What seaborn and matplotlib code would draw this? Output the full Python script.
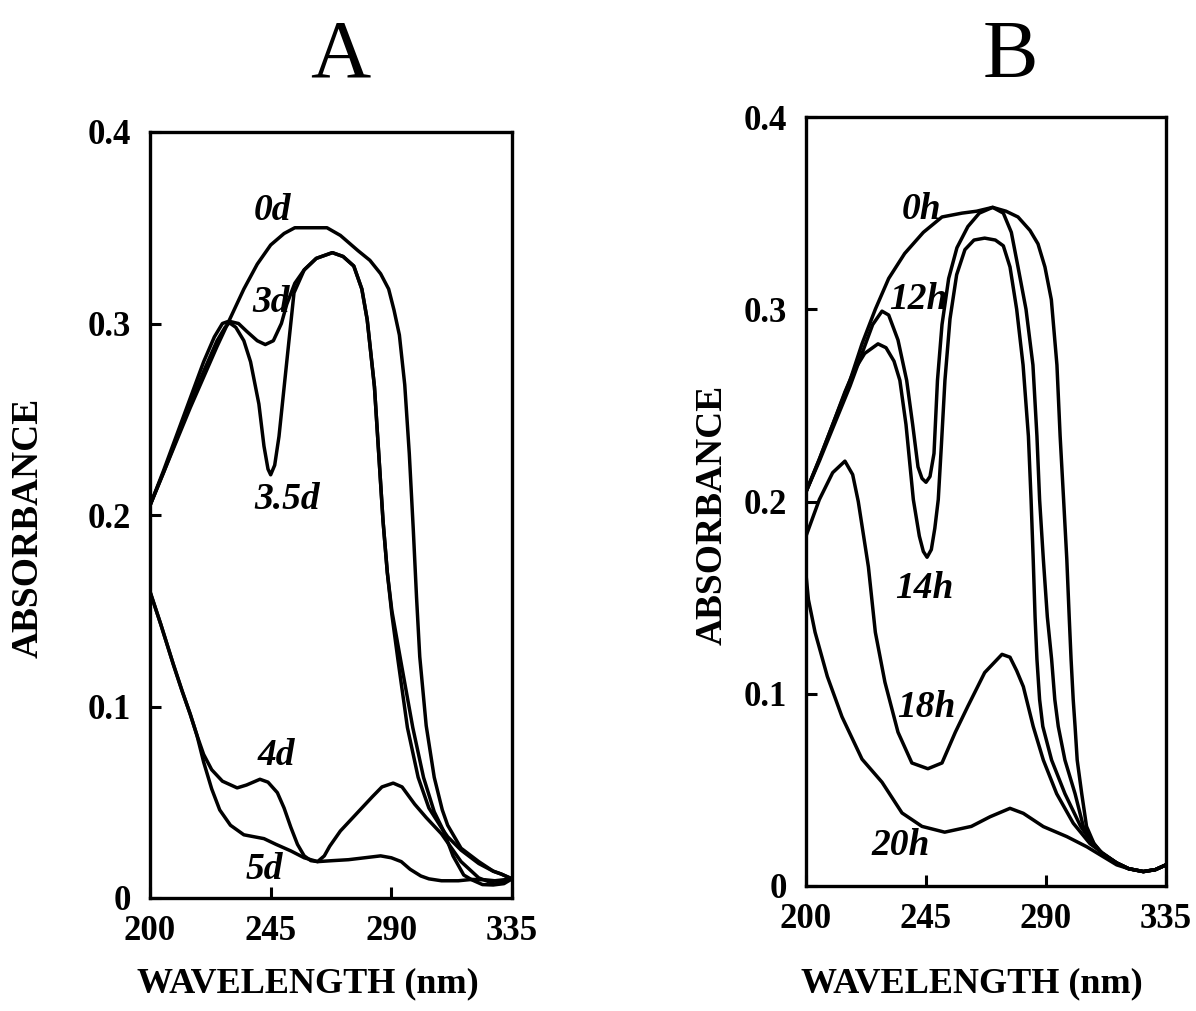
import numpy as np
import pandas as pd
import matplotlib
matplotlib.use("Agg")
import matplotlib.pyplot as plt
import seaborn as sns

# ---------------- data ----------------
x_ticks = [200, 245, 290, 335]
x_tick_labels = ["200", "245", "290", "335"]
y_ticks = [0, 0.1, 0.2, 0.3, 0.4]
y_tick_labels = ["0", "0.1", "0.2", "0.3", "0.4"]

# Panel A (days)
wl_0d = [200, 205, 210, 215, 220, 225, 230, 235, 240, 245, 250, 254, 260, 266, 271, 277.6, 282, 286, 289, 291,
         293, 295, 296.7, 298.2, 299.4, 300.6, 303, 306, 309, 311, 316, 322.6, 328, 331, 335]
abs_0d = [0.205, 0.222, 0.239, 0.256, 0.272, 0.288, 0.303, 0.318, 0.331, 0.341, 0.347, 0.350, 0.350, 0.350, 0.346,
          0.338, 0.333, 0.326, 0.318, 0.307, 0.294, 0.268, 0.232, 0.192, 0.157, 0.126, 0.090, 0.063, 0.046, 0.038,
          0.026, 0.019, 0.014, 0.0125, 0.010]

wl_3d = [200, 205, 210, 215, 220, 225, 228, 230, 233, 236, 240, 243, 246, 249, 251, 254, 257.5, 262, 268, 272,
         276, 279, 281, 283.7, 285.3, 286.9, 288.5, 290.2, 292.5, 296, 300, 304, 309, 311, 316, 322.6, 328, 331, 335]
abs_3d = [0.205, 0.222, 0.240, 0.258, 0.275, 0.291, 0.298, 0.301, 0.300, 0.296, 0.291, 0.289, 0.291, 0.300, 0.310,
          0.321, 0.328, 0.334, 0.337, 0.335, 0.330, 0.318, 0.302, 0.267, 0.232, 0.197, 0.170, 0.148, 0.124, 0.089,
          0.063, 0.047, 0.036, 0.032, 0.025, 0.018, 0.014, 0.0125, 0.010]

wl_35d = [200, 205, 210, 215, 220, 224, 227, 229, 232, 235, 237.5, 240.6, 242.5, 244, 245, 246.5, 248.1, 251.3,
          253.7, 257.5, 262, 268, 272, 276, 279, 281, 283.7, 285.3, 286.9, 288.5, 290.2, 293.5, 298, 302, 306, 309.5,
          313, 317, 320, 324, 328, 332, 335]
abs_35d = [0.205, 0.223, 0.242, 0.261, 0.280, 0.293, 0.300, 0.301, 0.298, 0.291, 0.280, 0.258, 0.236, 0.224, 0.221,
           0.226, 0.241, 0.284, 0.316, 0.328, 0.334, 0.337, 0.335, 0.330, 0.318, 0.302, 0.267, 0.232, 0.197, 0.170,
           0.150, 0.124, 0.089, 0.063, 0.045, 0.035, 0.022, 0.012, 0.0095, 0.007, 0.0068, 0.0075, 0.010]

wl_4d = [200, 204, 208.7, 212, 215, 217.5, 220, 223, 227, 232.5, 236, 241, 244, 247.5, 250, 252.5, 255, 257.5,
         260, 262.5, 265, 267, 271, 275, 279, 283, 286.5, 290.7, 294, 298.7, 303, 308.7, 316, 322.6, 328.6, 335]
abs_4d = [0.160, 0.143, 0.122, 0.108, 0.096, 0.085, 0.075, 0.067, 0.061, 0.0575, 0.059, 0.062, 0.0605, 0.055,
          0.047, 0.037, 0.028, 0.022, 0.0195, 0.019, 0.022, 0.027, 0.035, 0.041, 0.047, 0.053, 0.058, 0.060, 0.058,
          0.049, 0.042, 0.0335, 0.019, 0.0105, 0.0073, 0.010]

wl_5d = [200, 204, 208.7, 212, 215, 217.5, 220, 223, 226, 230, 235, 242.5, 247, 252.5, 257.5, 262.5, 268, 274,
         280, 286, 290, 293.7, 297, 301, 304, 308.7, 315, 320, 325, 328.6, 335]
abs_5d = [0.160, 0.143, 0.122, 0.108, 0.096, 0.085, 0.071, 0.057, 0.046, 0.038, 0.033, 0.031, 0.028, 0.0246, 0.021,
          0.019, 0.0195, 0.020, 0.021, 0.022, 0.021, 0.019, 0.015, 0.0115, 0.010, 0.009, 0.009, 0.0097, 0.0095,
          0.009, 0.010]

# Panel B (hours)
wl_0h = [200, 205, 210, 216.5, 221, 226, 231, 237, 244, 251, 258.5, 264, 270, 275, 279.5, 284, 287, 289.6, 292,
         294.1, 295.3, 296.6, 297.8, 298.7, 299.4, 300.2, 300.9, 301.7, 303.4, 305.2, 308, 311, 316.5, 321, 326.5,
         331, 335]
abs_0h = [0.205, 0.222, 0.240, 0.263, 0.282, 0.300, 0.316, 0.329, 0.340, 0.348, 0.350, 0.351, 0.353, 0.351, 0.348,
          0.341, 0.334, 0.322, 0.305, 0.271, 0.234, 0.201, 0.170, 0.140, 0.118, 0.097, 0.083, 0.0655, 0.048, 0.031,
          0.022, 0.017, 0.012, 0.009, 0.0075, 0.0085, 0.011]

wl_12h = [200, 205, 210, 216.5, 221, 225, 228.5, 231, 234.5, 237.75, 240, 242, 243.5, 245, 246.5, 248, 249.3, 251,
          253.5, 256.6, 260.7, 265, 270, 274, 277, 279.5, 282.5, 285.1, 286.6, 287.6, 289.0, 290.5, 292.1, 293.3,
          294.6, 297.1, 300.9, 304, 308, 311, 316.5, 321, 326.5, 331, 335]
abs_12h = [0.205, 0.221, 0.238, 0.260, 0.277, 0.292, 0.299, 0.297, 0.284, 0.263, 0.240, 0.218, 0.212, 0.210, 0.213,
           0.225, 0.263, 0.292, 0.316, 0.332, 0.343, 0.350, 0.353, 0.350, 0.340, 0.322, 0.300, 0.271, 0.234, 0.201,
           0.170, 0.140, 0.118, 0.097, 0.083, 0.0655, 0.048, 0.031, 0.022, 0.017, 0.012, 0.009, 0.0075, 0.0085, 0.011]

wl_14h = [200, 205, 210, 214.6, 218, 222, 227, 230, 233, 235.2, 237.5, 240.25, 242.5, 244, 245.4, 247, 248.3, 249.6,
          250.8, 252.1, 254, 256.5, 259.6, 263, 267, 271, 274, 276.5, 279, 281.4, 283.4, 284.4, 285.2, 285.9, 286.6,
          287.6, 288.8, 292.1, 297.1, 303, 307.5, 311, 316.5, 321, 326.5, 331, 335]
abs_14h = [0.205, 0.222, 0.240, 0.257, 0.268, 0.277, 0.282, 0.280, 0.273, 0.263, 0.240, 0.201, 0.182, 0.174, 0.171,
           0.175, 0.186, 0.201, 0.230, 0.263, 0.295, 0.318, 0.331, 0.336, 0.337, 0.336, 0.333, 0.322, 0.300, 0.271,
           0.234, 0.201, 0.170, 0.140, 0.118, 0.097, 0.083, 0.0655, 0.048, 0.031, 0.022, 0.017, 0.012, 0.009, 0.0075,
           0.0085, 0.011]

wl_18h = [200, 205, 210, 214.6, 217.5, 219.6, 223.4, 226, 229.6, 234.5, 239.7, 245.7, 251, 256, 260.7, 267, 273.5,
          276.5, 279, 281.5, 285.2, 289, 294, 300.2, 306.5, 311.4, 316.5, 321, 326.5, 331, 335]
abs_18h = [0.182, 0.201, 0.215, 0.221, 0.214, 0.200, 0.166, 0.132, 0.106, 0.080, 0.064, 0.061, 0.064, 0.080, 0.0935,
           0.111, 0.1205, 0.119, 0.112, 0.1037, 0.083, 0.0655, 0.048, 0.0327, 0.022, 0.017, 0.012, 0.009, 0.0075,
           0.0085, 0.011]

wl_20h = [200, 200.9, 203.4, 208, 213.5, 221, 228.5, 236, 243.5, 252, 262, 269, 276.5, 281.5, 289, 297.8, 305.3,
          311.5, 316.5, 321, 326.5, 331, 335]
abs_20h = [0.162, 0.149, 0.132, 0.109, 0.088, 0.066, 0.054, 0.038, 0.031, 0.028, 0.031, 0.036, 0.0404, 0.0378,
           0.0309, 0.0257, 0.0204, 0.0152, 0.011, 0.009, 0.0075, 0.0085, 0.011]

# curve labels: text, wavelength, absorbance (baseline)
labels_A = [("0d", 245.6, 0.354), ("3d", 245.0, 0.306), ("3.5d", 251.3, 0.203), ("4d", 247.2, 0.0695),
            ("5d", 242.6, 0.0098)]
labels_B = [("0h", 243.4, 0.347), ("12h", 242.1, 0.300), ("14h", 244.3, 0.1496), ("18h", 245.3, 0.0881),
            ("20h", 235.6, 0.0161)]


def make_df(curves):
    frames = [pd.DataFrame({"wl": w, "A": a, "curve": n}) for n, w, a in curves]
    return pd.concat(frames, ignore_index=True)


df_A = make_df([("0d", wl_0d, abs_0d), ("3d", wl_3d, abs_3d), ("3.5d", wl_35d, abs_35d),
                ("4d", wl_4d, abs_4d), ("5d", wl_5d, abs_5d)])
df_B = make_df([("0h", wl_0h, abs_0h), ("12h", wl_12h, abs_12h), ("14h", wl_14h, abs_14h),
                ("18h", wl_18h, abs_18h), ("20h", wl_20h, abs_20h)])

# ---------------- styling ----------------
sns.set_theme(style="white")
plt.rcParams["font.family"] = ["Liberation Serif", "DejaVu Serif"]
plt.rcParams["lines.solid_joinstyle"] = "round"
plt.rcParams["lines.solid_capstyle"] = "round"

W, H = 1196, 1011
fig = plt.figure(figsize=(W / 100, H / 100), dpi=100)
fig.patch.set_facecolor("white")


def axes_px(l, t, r, b):
    return fig.add_axes([l / W, 1 - b / H, (r - l) / W, (b - t) / H])


axA = axes_px(150, 132, 512, 898)
axB = axes_px(806, 117, 1166, 886)

panels = [
    (axA, df_A, labels_A, "A", (340 - 150) / 362, (898 - 77) / 766,
     (308 - 150) / 362, (898 - 992) / 766, (28 - 150) / 362, (898 - 528) / 766),
    (axB, df_B, labels_B, "B", (1010 - 806) / 360, (886 - 77) / 769,
     (972 - 806) / 360, (886 - 992) / 769, (712 - 806) / 360, (886 - 515) / 769),
]

for ax, df, labs, title, tx, ty, xlx, xly, ylx, yly in panels:
    sns.lineplot(data=df, x="wl", y="A", units="curve", estimator=None, sort=False,
                 color="black", linewidth=2.5, ax=ax, legend=False)
    ax.set_xlim(200, 335)
    ax.set_ylim(0, 0.4)
    ax.set_facecolor("white")
    ax.set_xticks(x_ticks)
    ax.set_xticklabels(x_tick_labels)
    ax.set_yticks(y_ticks)
    ax.set_yticklabels(y_tick_labels)
    ax.tick_params(direction="in", length=8, width=2.2, labelsize=25, color="black",
                   labelcolor="black", bottom=True, left=True, top=False, right=False)
    ax.tick_params(axis="x", pad=12)
    ax.tick_params(axis="y", pad=14)
    for lab in ax.get_xticklabels() + ax.get_yticklabels():
        lab.set_fontweight("bold")
    for s in ax.spines.values():
        s.set_visible(True)
        s.set_linewidth(2.4)
        s.set_color("black")

    ax.set_xlabel("WAVELENGTH (nm)", fontsize=26, fontweight="bold", color="black", va="baseline")
    ax.xaxis.set_label_coords(xlx, xly)
    ax.set_ylabel("ABSORBANCE", fontsize=27, fontweight="bold", color="black", va="center", ha="center")
    ax.yaxis.set_label_coords(ylx, yly)

    ax.text(tx, ty, title, transform=ax.transAxes, ha="center", va="baseline",
            fontsize=60, color="black")

    for txt, xw, ya in labs:
        ax.text(xw, ya, txt, ha="center", va="baseline", fontsize=27,
                fontstyle="italic", fontweight="bold", color="black")

fig.savefig("out.png", dpi=100, facecolor="white")
